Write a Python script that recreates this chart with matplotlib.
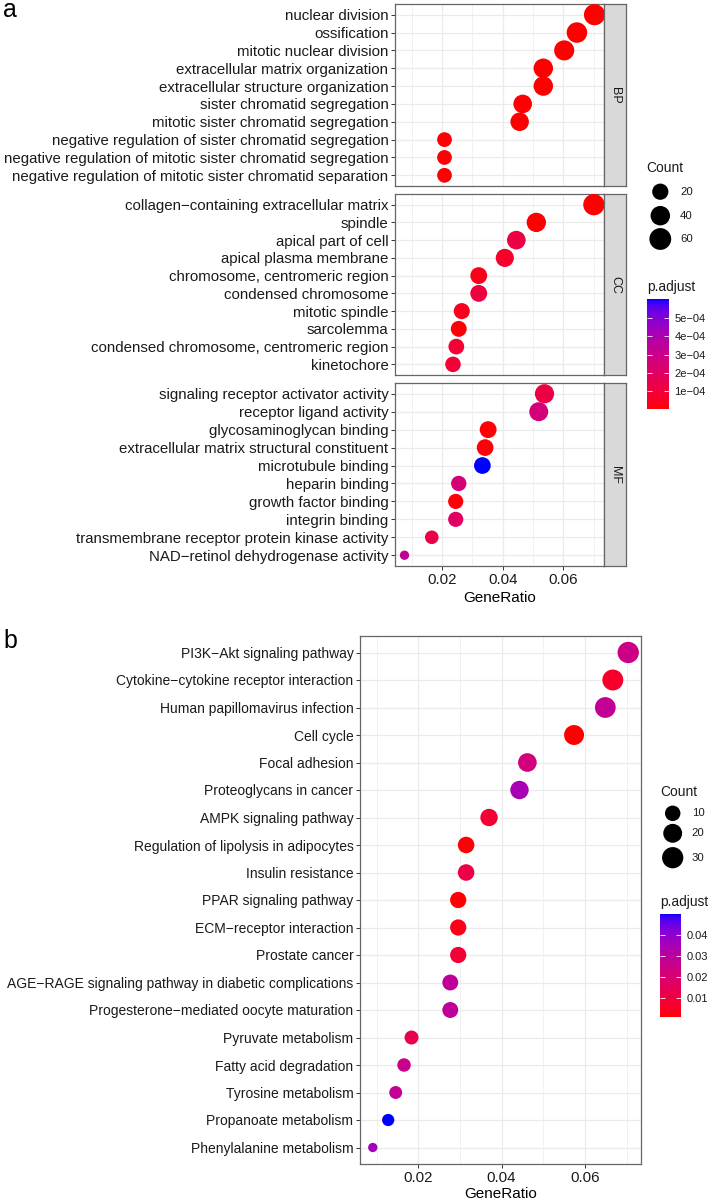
import numpy as np
import matplotlib
matplotlib.use("Agg")
import matplotlib.pyplot as plt
from matplotlib.colors import ListedColormap, Normalize
from matplotlib.cm import ScalarMappable

plt.rcParams['font.family'] = ['Liberation Sans', 'DejaVu Sans']

W, H, DPI = 708, 1199, 100

# ---------------- Panel a data ----------------
bp_terms = ["nuclear division", "ossification", "mitotic nuclear division",
            "extracellular matrix organization", "extracellular structure organization",
            "sister chromatid segregation", "mitotic sister chromatid segregation",
            "negative regulation of sister chromatid segregation",
            "negative regulation of mitotic sister chromatid segregation",
            "negative regulation of mitotic sister chromatid separation"]
bp_ratio = [0.0703, 0.0645, 0.0603, 0.0534, 0.0534, 0.0466, 0.0456, 0.0208, 0.0208, 0.0208]
bp_count = [68, 62, 58, 52, 52, 45, 44, 20, 20, 20]
bp_padj = [1e-9, 2e-8, 5e-8, 1e-9, 1e-9, 3e-6, 4e-6, 5e-6, 5e-6, 5e-6]

cc_terms = ["collagen\u2212containing extracellular matrix", "spindle", "apical part of cell",
            "apical plasma membrane", "chromosome, centromeric region", "condensed chromosome",
            "mitotic spindle", "sarcolemma", "condensed chromosome, centromeric region",
            "kinetochore"]
cc_ratio = [0.0701, 0.0511, 0.0445, 0.0407, 0.0321, 0.0321, 0.0265, 0.0255, 0.0247, 0.0236]
cc_count = [70, 51, 45, 41, 32, 32, 27, 26, 25, 24]
cc_padj = [1e-10, 2e-6, 1.2e-4, 6e-5, 3e-5, 1.1e-4, 4e-5, 5e-6, 8e-5, 9e-5]

mf_terms = ["signaling receptor activator activity", "receptor ligand activity",
            "glycosaminoglycan binding", "extracellular matrix structural constituent",
            "microtubule binding", "heparin binding", "growth factor binding",
            "integrin binding", "transmembrane receptor protein kinase activity",
            "NAD\u2212retinol dehydrogenase activity"]
mf_ratio = [0.0538, 0.0519, 0.0352, 0.0342, 0.0333, 0.0255, 0.0245, 0.0245, 0.0166, 0.0076]
mf_count = [50, 48, 32, 31, 31, 23, 22, 22, 15, 7]
mf_padj = [1.2e-4, 2.6e-4, 6e-6, 8e-6, 6.04e-4, 2.5e-4, 1e-5, 2.0e-4, 1.3e-4, 3.3e-4]

facets_a = ["BP", "CC", "MF"]
count_breaks_a = [20, 40, 60]
padj_ticks_a = [1e-4, 2e-4, 3e-4, 4e-4, 5e-4]
padj_ticklabels_a = ["1e\u221204", "2e\u221204", "3e\u221204", "4e\u221204", "5e\u221204"]

# ---------------- Panel b data ----------------
kegg_terms = ["PI3K\u2212Akt signaling pathway", "Cytokine\u2212cytokine receptor interaction",
              "Human papillomavirus infection", "Cell cycle", "Focal adhesion",
              "Proteoglycans in cancer", "AMPK signaling pathway",
              "Regulation of lipolysis in adipocytes", "Insulin resistance",
              "PPAR signaling pathway", "ECM\u2212receptor interaction", "Prostate cancer",
              "AGE\u2212RAGE signaling pathway in diabetic complications",
              "Progesterone\u2212mediated oocyte maturation", "Pyruvate metabolism",
              "Fatty acid degradation", "Tyrosine metabolism", "Propanoate metabolism",
              "Phenylalanine metabolism"]
kegg_ratio = [0.0704, 0.0667, 0.0649, 0.0574, 0.0462, 0.0443, 0.0370, 0.0315, 0.0315,
              0.0296, 0.0296, 0.0296, 0.0277, 0.0277, 0.0184, 0.0166, 0.0146, 0.0128, 0.0091]
kegg_count = [38, 36, 35, 31, 25, 24, 20, 17, 17, 16, 16, 16, 15, 15, 10, 9, 8, 7, 5]
kegg_padj = [0.025, 0.006, 0.028, 0.0008, 0.023, 0.035, 0.0078, 0.0012, 0.011, 0.001,
             0.0033, 0.0078, 0.029, 0.029, 0.0127, 0.026, 0.028, 0.0503, 0.036]
count_breaks_b = [10, 20, 30]
padj_ticks_b = [0.01, 0.02, 0.03, 0.04]
padj_ticklabels_b = ["0.01", "0.02", "0.03", "0.04"]

# ---------------- helpers ----------------
def srgb_to_lab(rgb):
    rgb = np.asarray(rgb, float)
    lin = np.where(rgb <= 0.04045, rgb / 12.92, ((rgb + 0.055) / 1.055) ** 2.4)
    M = np.array([[0.4124564, 0.3575761, 0.1804375],
                  [0.2126729, 0.7151522, 0.0721750],
                  [0.0193339, 0.1191920, 0.9503041]])
    xyz = M @ lin
    wp = np.array([0.95047, 1.0, 1.08883])
    t = xyz / wp
    f = np.where(t > 216 / 24389, np.cbrt(t), (24389 / 27 * t + 16) / 116)
    return np.array([116 * f[1] - 16, 500 * (f[0] - f[1]), 200 * (f[1] - f[2])])

def lab_to_srgb(lab):
    L, a, b = lab
    fy = (L + 16) / 116
    fx = fy + a / 500
    fz = fy - b / 200
    def finv(f):
        return np.where(f ** 3 > 216 / 24389, f ** 3, (116 * f - 16) / (24389 / 27))
    wp = np.array([0.95047, 1.0, 1.08883])
    xyz = np.array([finv(fx), finv(fy), finv(fz)]) * wp
    Minv = np.array([[3.2404542, -1.5371385, -0.4985314],
                     [-0.9692660, 1.8760108, 0.0415560],
                     [0.0556434, -0.2040259, 1.0572252]])
    lin = Minv @ xyz
    lin = np.clip(lin, 0, 1)
    rgb = np.where(lin <= 0.0031308, 12.92 * lin, 1.055 * lin ** (1 / 2.4) - 0.055)
    return np.clip(rgb, 0, 1)

lab_lo = srgb_to_lab([1, 0, 0])
lab_hi = srgb_to_lab([0, 0, 1])
cmap = ListedColormap([lab_to_srgb(lab_lo + (lab_hi - lab_lo) * t)
                       for t in np.linspace(0, 1, 256)])

def size_pts2(c, cmin, cmax, extra_px=0.0):
    c = np.asarray(c, float)
    sz = 3 + 5 * np.sqrt(np.clip((c - cmin) / (cmax - cmin), 0, 1))
    diam_px = 2.4 * sz + 2.1 + extra_px
    return (diam_px * 72 / DPI) ** 2

def fbox(x0, y0, x1, y1):
    return [x0 / W, 1 - y1 / H, (x1 - x0) / W, (y1 - y0) / H]

GRID = "#EBEBEB"
BORDER = "#666666"

def style_axis(ax, xlim, terms, fs):
    ax.set_xlim(*xlim)
    n = len(terms)
    ax.set_ylim(-0.6, n - 1 + 0.6)
    ax.set_yticks(np.arange(n)[::-1])
    ax.set_yticklabels(terms, fontsize=fs, color="#1A1A1A")
    ax.set_xticks([0.02, 0.04, 0.06])
    ax.set_xticks([0.01, 0.03, 0.05, 0.07], minor=True)
    ax.grid(True, which="major", color=GRID, lw=0.9)
    ax.grid(True, which="minor", axis="x", color=GRID, lw=0.5)
    ax.set_axisbelow(True)
    ax.tick_params(axis="both", which="major", length=3.2, width=0.7, color="#333333",
                   pad=1.5)
    ax.tick_params(axis="x", which="minor", length=0)
    for s in ax.spines.values():
        s.set_color(BORDER)
        s.set_linewidth(0.9)

fig = plt.figure(figsize=(W / DPI, H / DPI), dpi=DPI)

# ---------------- Panel a ----------------
all_ratio_a = bp_ratio + cc_ratio + mf_ratio
all_count_a = bp_count + cc_count + mf_count
all_padj_a = bp_padj + cc_padj + mf_padj
span = max(all_ratio_a) - min(all_ratio_a)
xlim_a = (min(all_ratio_a) - 0.05 * span, max(all_ratio_a) + 0.05 * span)
cmin_a, cmax_a = min(all_count_a), max(all_count_a)
norm_a = Normalize(min(all_padj_a), max(all_padj_a))

rows_a = [(4, 186), (194, 375), (383, 566)]
data_a = [(bp_terms, bp_ratio, bp_count, bp_padj),
          (cc_terms, cc_ratio, cc_count, cc_padj),
          (mf_terms, mf_ratio, mf_count, mf_padj)]
for i, ((y0, y1), (terms, ratio, count, padj), lab) in enumerate(zip(rows_a, data_a, facets_a)):
    ax = fig.add_axes(fbox(395, y0, 604, y1))
    style_axis(ax, xlim_a, terms, 10.8)
    ypos = np.arange(len(terms))[::-1]
    ax.scatter(ratio, ypos, s=size_pts2(count, cmin_a, cmax_a),
               c=cmap(norm_a(np.array(padj))), edgecolors="none", zorder=3)
    if i < 2:
        ax.tick_params(axis="x", which="major", labelbottom=False, length=0)
    else:
        ax.tick_params(axis="x", labelsize=10.8, labelcolor="#1A1A1A")
        ax.set_xlabel("GeneRatio", fontsize=11, labelpad=3)
    sax = fig.add_axes(fbox(604, y0, 626, y1))
    sax.set_facecolor("#D9D9D9")
    sax.set_xticks([]); sax.set_yticks([])
    for s in sax.spines.values():
        s.set_color(BORDER); s.set_linewidth(0.9)
    sax.text(0.5, 0.5, lab, rotation=270, ha="center", va="center",
             fontsize=9, color="#1A1A1A", transform=sax.transAxes)

# ---------------- Panel b ----------------
span_b = max(kegg_ratio) - min(kegg_ratio)
xlim_b = (min(kegg_ratio) - 0.05 * span_b, max(kegg_ratio) + 0.05 * span_b)
cmin_b, cmax_b = min(kegg_count), max(kegg_count)
norm_b = Normalize(min(kegg_padj), max(kegg_padj))
axb = fig.add_axes(fbox(360, 636, 641, 1164))
style_axis(axb, xlim_b, kegg_terms, 10.0)
yb = np.arange(len(kegg_terms))[::-1]
axb.scatter(kegg_ratio, yb, s=size_pts2(kegg_count, cmin_b, cmax_b),
            c=cmap(norm_b(np.array(kegg_padj))), edgecolors="none", zorder=3)
axb.tick_params(axis="x", labelsize=10.8, labelcolor="#1A1A1A")
axb.set_xlabel("GeneRatio", fontsize=11, labelpad=2)

# ---------------- Legends (overlay in pixel coords) ----------------
ov = fig.add_axes([0, 0, 1, 1])
ov.set_xlim(0, W); ov.set_ylim(H, 0); ov.axis("off")
ov.patch.set_alpha(0)

def draw_legend(tx, ty, cx, cys, lx, breaks, cmin, cmax, ptx, pty, bar, ticks, ticklabels, norm):
    ov.text(tx, ty, "Count", fontsize=9.9, ha="left", va="center", color="#1A1A1A")
    ov.scatter([cx] * len(breaks), cys, s=size_pts2(breaks, cmin, cmax, extra_px=1.5),
               c="black", edgecolors="none")
    for b, y in zip(breaks, cys):
        ov.text(lx, y, str(b), fontsize=8.2, ha="left", va="center", color="#1A1A1A")
    ov.text(ptx, pty, "p.adjust", fontsize=9.9, ha="left", va="center", color="#1A1A1A")
    cax = fig.add_axes(fbox(*bar))
    cb = fig.colorbar(ScalarMappable(norm=norm, cmap=cmap), cax=cax)
    cb.outline.set_visible(False)
    cb.set_ticks(ticks)
    cb.set_ticklabels(ticklabels)
    cax.tick_params(which="both", direction="in", color="white", length=3.5, width=0.6,
                    left=True, right=True, labelsize=8, labelcolor="#1A1A1A", pad=4)
    cax.minorticks_off()

draw_legend(646.7, 168.3, 660.3, [191.7, 215.7, 239.0], 680, count_breaks_a, cmin_a, cmax_a,
            646.7, 286.7, (646.7, 299.3, 669.0, 409.0), padj_ticks_a, padj_ticklabels_a, norm_a)
draw_legend(660.0, 791.7, 672.7, [813.3, 833.3, 857.7], 691.7, count_breaks_b, cmin_b, cmax_b,
            660.0, 902.3, (660.0, 914.0, 681.3, 1016.7), padj_ticks_b, padj_ticklabels_b, norm_b)

# Panel labels
fig.text(3 / W, 1 - 17 / H, "a", fontsize=18, ha="left", va="baseline")
fig.text(3 / W, 1 - 648 / H, "b", fontsize=18, ha="left", va="baseline")

fig.savefig("out.png", dpi=DPI)
